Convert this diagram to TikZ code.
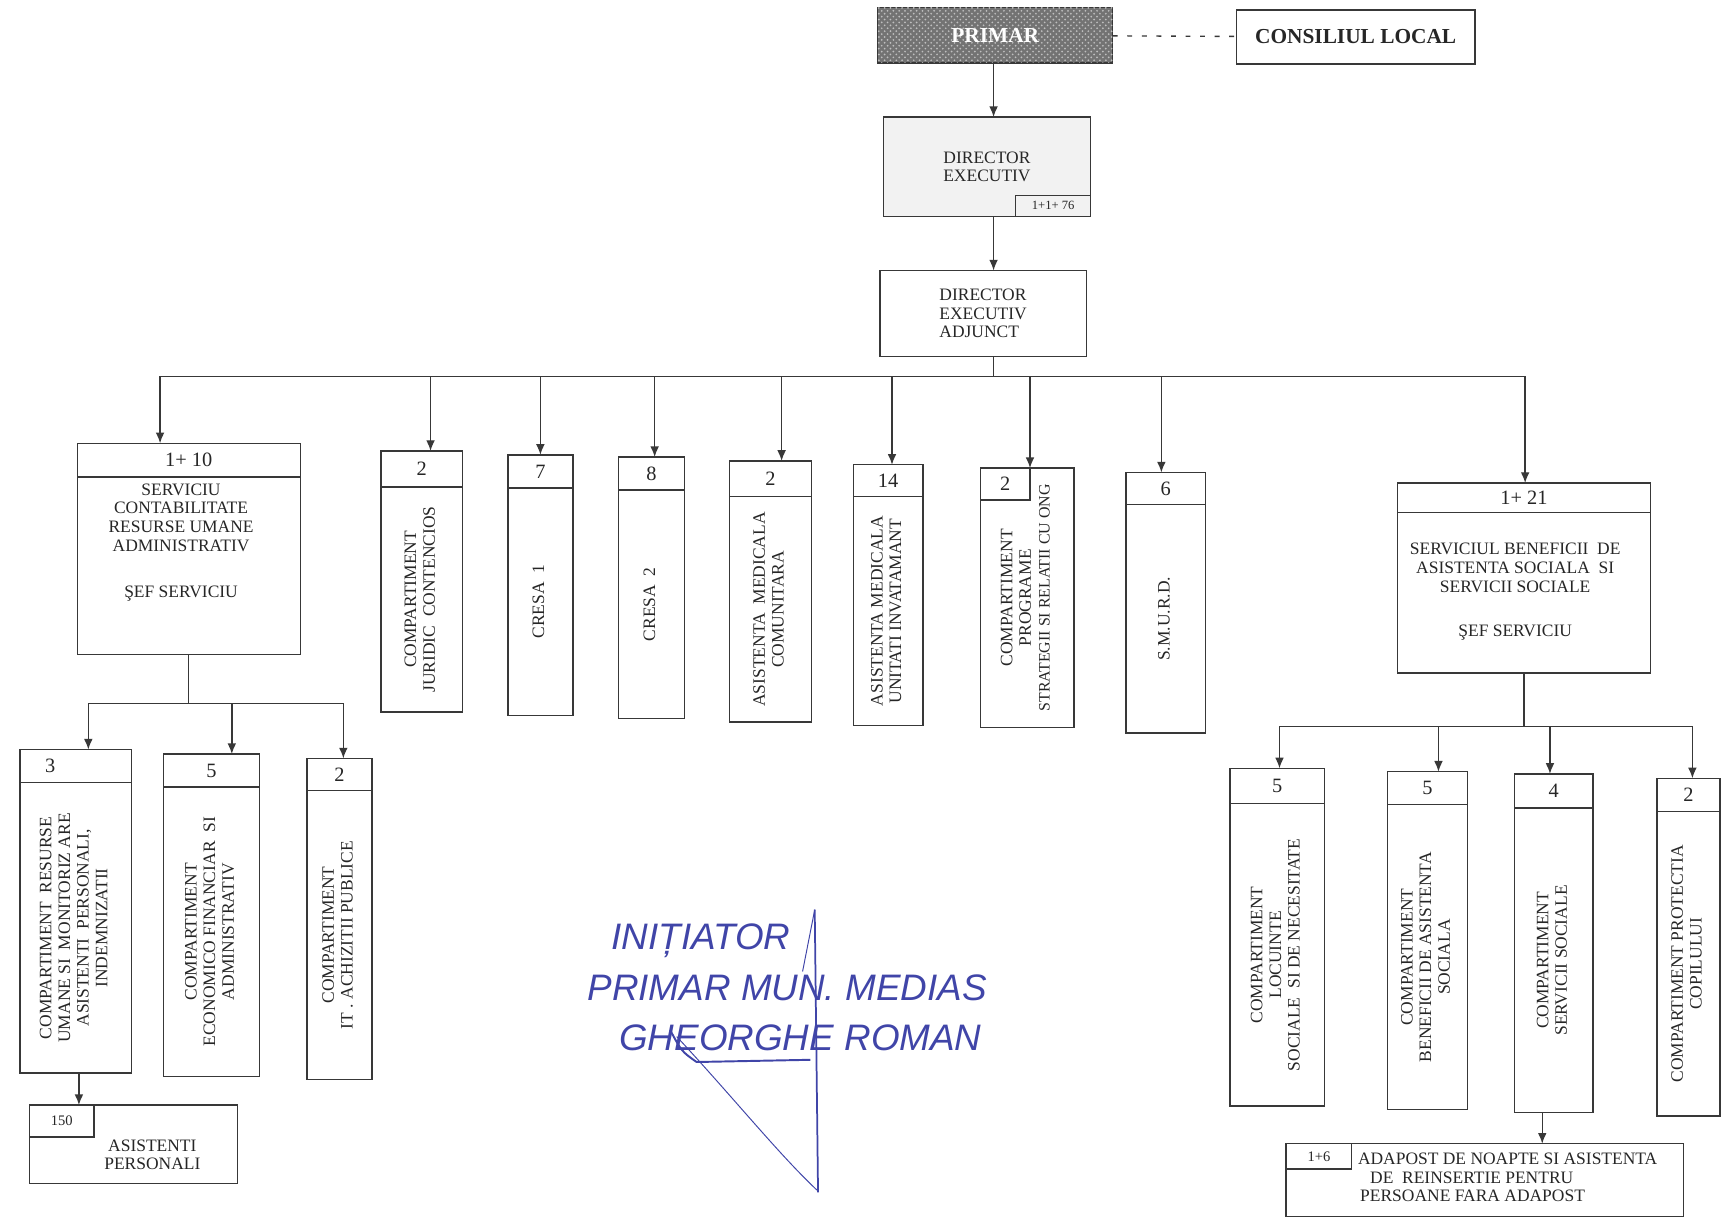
\documentclass[tikz,border=0pt]{standalone}
\usepackage{fontspec}
\setmainfont{Liberation Serif}
\newfontfamily\handfont{Liberation Sans}
\usepackage{tikz}
\usetikzlibrary{patterns,arrows.meta,positioning}
\definecolor{inkgray}{rgb}{0.22,0.22,0.22}
\definecolor{penblue}{rgb}{0.25,0.27,0.66}
\newcommand{\vlabel}[1]{\rotatebox{90}{\begin{tabular}{@{}c@{}}#1\end{tabular}}}
\tikzset{unitbox/.style={draw=inkgray, line width=0.7pt, outer sep=0pt, inner sep=1pt,
            align=center, text=black!85, font=\fontsize{9}{9.6}\selectfont},
        numbox/.style={unitbox, font=\fontsize{10.5}{12}\selectfont},
        smallnum/.style={unitbox, font=\fontsize{7.5}{9}\selectfont},
        boxtext/.style={inner sep=1pt, align=center, text=black!85, font=\fontsize{9}{9.6}\selectfont},
        wire/.style={draw=inkgray, line width=0.7pt},
        handtext/.style={text=penblue, font=\handfont\itshape\fontsize{19}{22}\selectfont}
}

\begin{document}
\begin{tikzpicture}[y=-1cm, >={Latex[length=5.5pt,width=4.5pt]}]
\useasboundingbox (0,0) rectangle (31.36,22.18);
\coordinate (spine) at (18.0,0);
\node[unitbox, minimum width=4.26cm, minimum height=1cm, fill=black!55,
      postaction={pattern=crosshatch dots, pattern color=black!25},
      text=white, font=\bfseries\fontsize{11}{13}\selectfont] (primar) at (18.03,0.64) {PRIMAR};
\node[unitbox, minimum width=4.32cm, minimum height=0.98cm, font=\bfseries\fontsize{11}{13}\selectfont] (cons) at (24.56,0.67) {CONSILIUL LOCAL};
\node[unitbox, minimum width=3.76cm, minimum height=1.8cm, fill=black!5] (de) at (17.88,3.02) {DIRECTOR\\EXECUTIV};
\node[smallnum, anchor=south east, minimum width=1.36cm, minimum height=0.38cm, font=\fontsize{6.5}{8}\selectfont] (de-n) at (de.south east) {1+1+ 76};
\node[unitbox, align=left, minimum width=3.74cm, minimum height=1.56cm] (dea) at (17.81,5.68) {DIRECTOR\\EXECUTIV\\ADJUNCT};
\draw[wire, dash pattern=on 2.5pt off 5pt] (primar) -- (cons);
\draw[->, wire] (primar.south -| spine) -- (de.north -| spine);
\draw[->, wire] (de.south -| spine) -- (dea.north -| spine);

\coordinate (busA) at (2.90,6.82);
\coordinate (busB) at (27.63,6.82);
\draw[wire] (dea.south -| spine) -- (busA -| spine);
\draw[wire] (busA) -- (busB);

\node[numbox, anchor=north, minimum width=4.04cm, minimum height=0.61cm] (scru-n) at (3.42,8.03) {1+ 10};
\node[unitbox, below=0pt of scru-n, minimum width=4.04cm, minimum height=3.22cm] (scru) {};
\node[boxtext, below=0.08cm of scru.north, xshift=-0.14cm] (scru-t) {SERVICIU\\CONTABILITATE\\RESURSE UMANE\\ADMINISTRATIV\\[14.5pt]ŞEF SERVICIU};
\node[numbox, anchor=north, minimum width=1.48cm, minimum height=0.65cm] (jur-n) at (7.64,8.17) {2};
\node[unitbox, below=0pt of jur-n, minimum width=1.48cm, minimum height=4.08cm] (jur) {\vlabel{COMPARTIMENT\\JURIDIC\ \ CONTENCIOS}};
\node[numbox, anchor=north, minimum width=1.18cm, minimum height=0.60cm] (cresa1-n) at (9.79,8.24) {7};
\node[unitbox, below=0pt of cresa1-n, minimum width=1.18cm, minimum height=4.12cm] (cresa1) {\vlabel{CRESA\ \ 1}};
\node[numbox, anchor=north, minimum width=1.20cm, minimum height=0.60cm] (cresa2-n) at (11.80,8.28) {8};
\node[unitbox, below=0pt of cresa2-n, minimum width=1.20cm, minimum height=4.14cm] (cresa2) {\vlabel{CRESA\ \ 2}};
\node[numbox, anchor=north, minimum width=1.48cm, minimum height=0.65cm] (amc-n) at (13.96,8.35) {2};
\node[unitbox, below=0pt of amc-n, minimum width=1.48cm, minimum height=4.08cm] (amc) {\vlabel{ASISTENTA\ \ MEDICALA\\COMUNITARA}};
\node[numbox, anchor=north, minimum width=1.26cm, minimum height=0.58cm] (amui-n) at (16.09,8.42) {14};
\node[unitbox, below=0pt of amui-n, minimum width=1.26cm, minimum height=4.14cm] (amui) {\vlabel{ASISTENTA MEDICALA\\UNITATI INVATAMANT}};
\node[unitbox, minimum width=1.70cm, minimum height=4.70cm] (prog) at (18.61,10.83) {\vlabel{COMPARTIMENT\\PROGRAME\\{\fontsize{8.2}{9.6}\selectfont STRATEGII SI RELATII CU ONG}}};
\node[numbox, anchor=north west, minimum width=0.90cm, minimum height=0.58cm] (prog-n) at (prog.north west) {2};
\node[numbox, anchor=north, minimum width=1.44cm, minimum height=0.58cm] (smurd-n) at (21.12,8.56) {6};
\node[unitbox, below=0pt of smurd-n, minimum width=1.44cm, minimum height=4.14cm] (smurd) {\vlabel{S.M.U.R.D.}};
\node[numbox, anchor=north, minimum width=4.58cm, minimum height=0.54cm] (sbas-n) at (27.61,8.75) {1+ 21};
\node[unitbox, below=0pt of sbas-n, minimum width=4.58cm, minimum height=2.90cm] (sbas) {};
\node[boxtext, below=0.51cm of sbas.north, xshift=-0.16cm] (sbas-t) {SERVICIUL BENEFICII\ \ DE\\ASISTENTA SOCIALA\ \ SI\\SERVICII SOCIALE\\[13.5pt]ŞEF SERVICIU};

\foreach \n/\dx in {scru-n/-0.52, jur-n/0.16, cresa1-n/0, cresa2-n/0.06, amc-n/0.20, amui-n/0.07, smurd-n/-0.08, sbas-n/0.02}{
  \coordinate (hook) at ([xshift=\dx cm]\n.north);
  \draw[->, wire] (hook |- busA) -- (hook);
}
\draw[->, wire] (prog-n.north east |- busA) -- (prog-n.north east);

\coordinate (busC) at (1.60,12.74);
\coordinate (busD) at (6.22,12.74);
\draw[wire] (scru.south) -- (scru.south |- busC);
\draw[wire] (busC) -- (busD);
\node[numbox, anchor=north, minimum width=2.02cm, minimum height=0.60cm] (ru-n) at (1.37,13.58) {3\hspace{0.92cm}};
\node[unitbox, below=0pt of ru-n, minimum width=2.02cm, minimum height=5.26cm] (ru) {\vlabel{COMPARTIMENT\ \ RESURSE\\UMANE SI\ \ MONITORIZ ARE\\ASISTENTI\ \ PERSONALI,\\INDEMNIZATII}};
\node[numbox, anchor=north, minimum width=1.74cm, minimum height=0.60cm] (ef-n) at (3.83,13.66) {5};
\node[unitbox, below=0pt of ef-n, minimum width=1.74cm, minimum height=5.24cm] (ef) {\vlabel{COMPARTIMENT\\ECONOMICO FINANCIAR\ \ SI\\ADMINISTRATIV}};
\node[numbox, anchor=north, minimum width=1.18cm, minimum height=0.58cm] (it-n) at (6.15,13.74) {2};
\node[unitbox, below=0pt of it-n, minimum width=1.18cm, minimum height=5.24cm] (it) {\vlabel{COMPARTIMENT\\IT . ACHIZITII PUBLICE}};
\foreach \n/\dx in {ru-n/0.23, ef-n/0.37, it-n/0.07}{
  \coordinate (hook) at ([xshift=\dx cm]\n.north);
  \draw[->, wire] (hook |- busC) -- (hook);
}
\node[unitbox, minimum width=3.76cm, minimum height=1.42cm] (asp) at (2.42,20.73) {};
\node[smallnum, anchor=north west, minimum width=1.16cm, minimum height=0.58cm] (asp-n) at (asp.north west) {150};
\node[boxtext] (asp-t) at (2.76,20.92) {ASISTENTI\\PERSONALI};
\coordinate (ru-out) at ([xshift=0.06cm]ru.south);
\draw[->, wire] (ru-out) -- (ru-out |- asp.north);

\coordinate (busE) at (23.18,13.16);
\coordinate (busF) at (30.66,13.16);
\draw[wire] (sbas.south) -- (sbas.south |- busE);
\draw[wire] (busE) -- (busF);
\node[numbox, anchor=north, minimum width=1.72cm, minimum height=0.64cm] (loc-n) at (23.14,13.92) {5};
\node[unitbox, below=0pt of loc-n, minimum width=1.72cm, minimum height=5.48cm] (loc) {\vlabel{COMPARTIMENT\\LOCUINTE\\SOCIALE\ \ SI DE NECESITATE}};
\node[numbox, anchor=north, minimum width=1.44cm, minimum height=0.60cm] (ben-n) at (25.86,13.98) {5};
\node[unitbox, below=0pt of ben-n, minimum width=1.44cm, minimum height=5.52cm] (ben) {\vlabel{COMPARTIMENT\\BENEFICII DE ASISTENTA\\SOCIALA}};
\node[numbox, anchor=north, minimum width=1.42cm, minimum height=0.62cm] (ss-n) at (28.15,14.02) {4};
\node[unitbox, below=0pt of ss-n, minimum width=1.42cm, minimum height=5.52cm] (ss) {\vlabel{COMPARTIMENT\\SERVICII SOCIALE}};
\node[numbox, anchor=north, minimum width=1.14cm, minimum height=0.60cm] (pc-n) at (30.59,14.10) {2};
\node[unitbox, below=0pt of pc-n, minimum width=1.14cm, minimum height=5.52cm] (pc) {\vlabel{COMPARTIMENT PROTECTIA\\COPILULUI}};
\foreach \n/\dx in {loc-n/0.04, ben-n/0.20, ss-n/-0.07, pc-n/0.07}{
  \coordinate (hook) at ([xshift=\dx cm]\n.north);
  \draw[->, wire] (hook |- busE) -- (hook);
}
\node[unitbox, minimum width=7.2cm, minimum height=1.32cm] (adp) at (26.90,21.38) {};
\node[smallnum, anchor=north west, minimum width=1.19cm, minimum height=0.46cm] (adp-n) at (adp.north west) {1+6};
\node[boxtext, anchor=west, align=left] (adp-t) at (24.56,21.33) {ADAPOST DE NOAPTE SI ASISTENTA\\\hspace*{0.22cm}DE\ \ REINSERTIE PENTRU\\\hspace*{0.04cm}PERSOANE FARA ADAPOST};
\coordinate (ss-out) at ([xshift=-0.21cm]ss.south);
\draw[->, wire] (ss-out) -- (ss-out |- adp.north);

\node[handtext] (init) at (12.70,17.04) {INIȚIATOR};
\node[handtext] (primun) at (14.26,17.90) {PRIMAR MUN. MEDIAS};
\node[handtext] (gname) at (14.50,18.80) {GHEORGHE ROMAN};
\draw[penblue, line width=0.9pt] (14.76,16.48) -- (14.82,21.60);
\draw[penblue, line width=0.5pt] (14.76,16.48) -- (14.54,17.60);
\draw[penblue, line width=1pt] (12.14,18.66) .. controls (12.35,19.05) .. (12.62,19.24) -- (14.68,19.20);
\draw[penblue, line width=0.5pt] (12.26,18.78) .. controls (13.3,19.9) and (14.1,20.9) .. (14.80,21.56);
\end{tikzpicture}
\end{document}
